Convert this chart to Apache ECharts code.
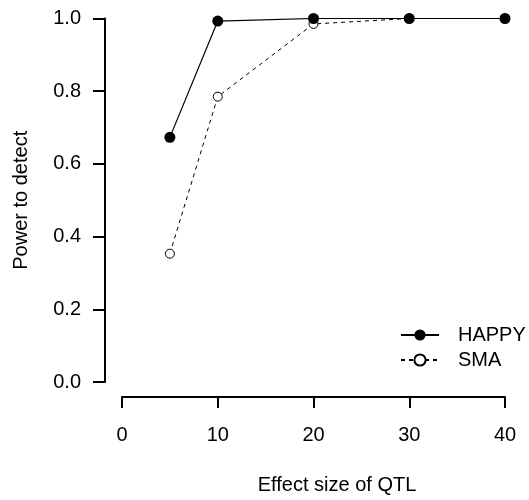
<!DOCTYPE html>
<html>
<head>
<meta charset="utf-8">
<script src="https://cdn.jsdelivr.net/npm/echarts@6/dist/echarts.min.js"></script>
<style>
html,body{margin:0;padding:0;background:#fff;}
#chart{width:529px;height:500px;}
</style>
</head>
<body>
<div id="chart"></div>
<script>
const effectSizes = [5, 10, 20, 30, 40];
const happyPower = [0.673, 0.993, 1.0, 1.0, 1.0];
const smaPower = [0.353, 0.785, 0.985, 1.0, 1.0];
const seriesNames = ['HAPPY', 'SMA'];
const xTicks = [0, 10, 20, 30, 40];
const yTicks = [0.0, 0.2, 0.4, 0.6, 0.8, 1.0];

const font = 'Liberation Sans, Arial, sans-serif';
const chart = echarts.init(document.getElementById('chart'), null, {renderer: 'canvas'});
const pairs = (xs, ys) => xs.map((x, i) => [x, ys[i]]);

chart.setOption({
  animation: false,
  backgroundColor: '#fff',
  grid: {left: 122, right: 24, top: 18.5, bottom: 117, containLabel: false},
  xAxis: {
    type: 'value', min: xTicks[0], max: xTicks[xTicks.length - 1], interval: 10,
    offset: 15,
    name: 'Effect size of QTL', nameLocation: 'middle', nameGap: 78,
    nameTextStyle: {fontFamily: font, fontSize: 20, color: '#000', padding: [0, 0, 0, 47]},
    axisLine: {show: true, onZero: false, lineStyle: {color: '#000', width: 2}},
    axisTick: {show: true, length: 11, lineStyle: {color: '#000', width: 2}},
    axisLabel: {fontFamily: font, fontSize: 20, color: '#000', margin: 28},
    splitLine: {show: false}
  },
  yAxis: {
    type: 'value', min: yTicks[0], max: yTicks[yTicks.length - 1], interval: 0.2,
    offset: 17,
    name: 'Power to detect', nameLocation: 'middle', nameGap: 74, nameRotate: 90,
    nameTextStyle: {fontFamily: font, fontSize: 20, color: '#000'},
    axisLine: {show: true, onZero: false, lineStyle: {color: '#000', width: 2}},
    axisTick: {show: true, length: 12, lineStyle: {color: '#000', width: 2}},
    axisLabel: {fontFamily: font, fontSize: 20, color: '#000', margin: 24,
      formatter: v => v.toFixed(1)},
    splitLine: {show: false}
  },
  legend: {
    orient: 'vertical', left: 395, top: 320, itemWidth: 38, itemHeight: 14, itemGap: 5,
    data: seriesNames,
    textStyle: {fontFamily: font, fontSize: 20, color: '#000', padding: [0, 0, 0, 14]}
  },
  series: [
    {
      name: seriesNames[1], type: 'line', data: pairs(effectSizes, smaPower),
      symbol: 'circle', symbolSize: 9, z: 2,
      lineStyle: {color: '#000', width: 1, type: [4, 4]},
      itemStyle: {color: '#fff', borderColor: '#000', borderWidth: 1}
    },
    {
      name: seriesNames[0], type: 'line', data: pairs(effectSizes, happyPower),
      symbol: 'circle', symbolSize: 11, z: 3,
      lineStyle: {color: '#000', width: 1.2},
      itemStyle: {color: '#000', borderColor: '#000', borderWidth: 0}
    }
  ]
});
</script>
</body>
</html>
